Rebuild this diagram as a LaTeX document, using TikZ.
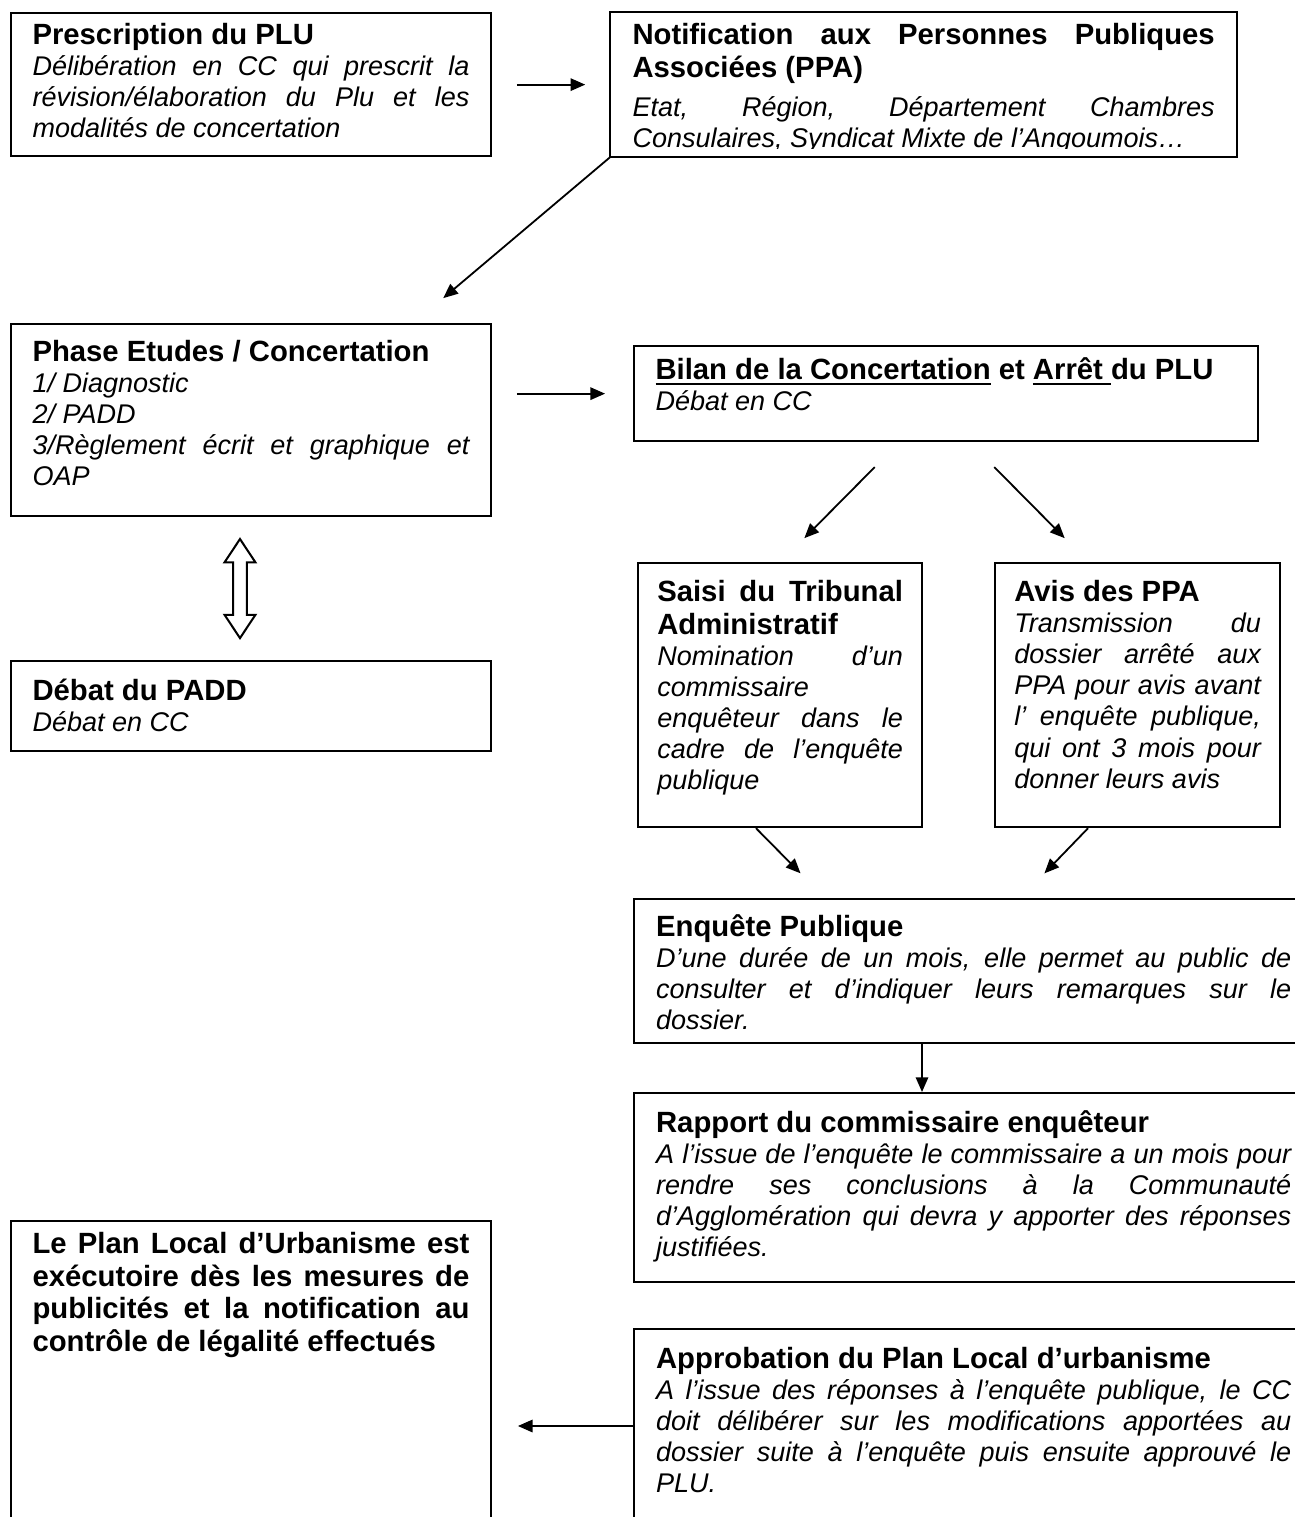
\documentclass[tikz,border=0pt]{standalone}
\usepackage{fontspec}
\setmainfont{Liberation Sans}
\usetikzlibrary{arrows.meta,calc,shapes.arrows}
\tolerance=10000 \hbadness=10000 \vbadness=10000
\hyphenpenalty=10000 \exhyphenpenalty=10000
\newcommand{\titlefont}{\bfseries\fontsize{13}{14.5}\selectfont}
\newcommand{\bodyfont}{\itshape\fontsize{12}{13.8}\selectfont}
\newcommand{\stagehead}[2]{{\titlefont\rule{0pt}{#1}#2\par}}
\newcommand{\stagebody}[1]{{\bodyfont #1\par}}
\newcommand{\uln}[1]{\setbox0\hbox{#1}\rlap{\rule[-2.4pt]{\wd0}{0.85pt}}\box0\relax}
\tikzstyle{stage}=[draw,line width=1pt,anchor=north west,inner xsep=9.5pt,inner ysep=0pt]
\tikzstyle{arr}=[-{Triangle[length=6.5pt,width=5.5pt]},line width=0.8pt]

\begin{document}
\begin{tikzpicture}[x=0.444pt,y=-0.444pt]
\useasboundingbox (0,0) rectangle (1295,1517);
\clip (0,0) rectangle (1295,1517);
\node[stage] (Presc) at (10,12) {\parbox[t][63.5pt][t]{194pt}{\stagehead{14pt}{Prescription du PLU}\stagebody{D\'elib\'eration en CC qui prescrit la\linebreak r\'evision/\'elaboration du Plu et les\linebreak modalit\'es de concertation}}};
\begin{scope}
\clip (600,0) rectangle (1245,148.5);
\node[stage,draw=none] (Notif) at (610,12) {\parbox[t][63.5pt][t]{258.5pt}{\stagehead{14pt}{Notification aux Personnes Publiques\linebreak Associ\'ees (PPA)}\vspace{3.4pt}\stagebody{Etat, R\'egion, D\'epartement Chambres\linebreak Consulaires, Syndicat Mixte de l’Angoumois…}}};
\end{scope}
\draw[line width=1pt] (Notif.south west) rectangle (Notif.north east);
\node[stage] (Phase) at (10,323) {\parbox[t][85.2pt][t]{194pt}{\stagehead{16.5pt}{Phase Etudes / Concertation}\stagebody{1/ Diagnostic\\ 2/ PADD\\ 3/R\`eglement \'ecrit et graphique et\linebreak OAP}}};
\node[stage] (Bilan) at (633,345) {\parbox[t][42.2pt][t]{258pt}{\stagehead{14.9pt}{\uln{Bilan de la Concertation} et \uln{Arr\^et }du PLU}\stagebody{D\'ebat en CC}}};
\node[stage,inner xsep=8.5pt] (Saisi) at (637,562) {\parbox[t][117.2pt][t]{109.1pt}{\stagehead{17.1pt}{Saisi du Tribunal\linebreak Administratif}\stagebody{Nomination d’un\linebreak commissaire\\ enqu\^eteur dans le\linebreak cadre de l’enqu\^ete\linebreak publique}}};
\node[stage,inner xsep=8.5pt] (Avis) at (994,562) {\parbox[t][117.2pt][t]{109.5pt}{\stagehead{17.1pt}{Avis des PPA}\stagebody{Transmission du\linebreak dossier arr\^et\'e aux\linebreak PPA pour avis avant\linebreak l’ enqu\^ete publique,\linebreak qui ont 3 mois pour\linebreak donner leurs avis}}};
\node[stage] (Debat) at (10,660) {\parbox[t][40pt][t]{194pt}{\stagehead{17.5pt}{D\'ebat du PADD}\stagebody{D\'ebat en CC}}};
\node[stage,inner xsep=9.75pt] (Enquete) at (633,898) {\parbox[t][63.9pt][t]{282pt}{\stagehead{16.6pt}{Enqu\^ete Publique}\stagebody{D’une dur\'ee de un mois, elle permet au public de\linebreak consulter et d’indiquer leurs remarques sur le\linebreak dossier.}}};
\node[stage,inner xsep=9.75pt] (Rapport) at (633,1092) {\parbox[t][83.9pt][t]{282pt}{\stagehead{17.5pt}{Rapport du commissaire enqu\^eteur}\stagebody{A l’issue de l’enqu\^ete le commissaire a un mois pour\linebreak rendre ses conclusions \`a la Communaut\'e\linebreak d’Agglom\'eration qui devra y apporter des r\'eponses\linebreak justifi\'ees.}}};
\node[stage] (Plan) at (10,1220) {\parbox[t][142.1pt][t]{194pt}{\titlefont\rule{0pt}{14.4pt}Le Plan Local d’Urbanisme est\linebreak ex\'ecutoire d\`es les mesures de\linebreak publicit\'es et la notification au\linebreak contr\^ole de l\'egalit\'e effectu\'es\par}};
\node[stage,inner xsep=9.75pt] (Approb) at (633,1328) {\parbox[t][94.1pt][t]{282pt}{\stagehead{17.5pt}{Approbation du Plan Local d’urbanisme}\stagebody{A l’issue des r\'eponses \`a l’enqu\^ete publique, le CC\linebreak doit d\'elib\'erer sur les modifications apport\'ees au\linebreak dossier suite \`a l’enqu\^ete puis ensuite approuv\'e le\linebreak PLU.}}};
\node[double arrow,draw,line width=0.9pt,rotate=90,minimum height=44pt,double arrow head extend=3.8pt,double arrow tip angle=67,inner xsep=0pt,inner ysep=2.6pt] (Link) at ($(Phase.south)!0.5!(Debat.north)+(-11,0)$) {};
\coordinate (Out) at ($(Approb.north west)+(0,98)$);
\draw[arr,shorten <=11pt,shorten >=11pt] (Presc.east) -- (Presc.east -| Notif.west);
\draw[arr,shorten >=17.1pt] (Notif.south west) -- ($(Phase.north west)+(403.8,0)$);
\draw[arr,shorten <=11.1pt,shorten >=12.4pt] (Bilan.west -| Phase.east) -- (Bilan.west);
\draw[arr,shorten <=15.5pt,shorten >=14.9pt] ($(Bilan.south west)+(266.3,0)$) -- ($(Saisi.north west)+(143.7,0)$);
\draw[arr,shorten <=15.5pt,shorten >=14.9pt] ($(Bilan.south west)+(336.7,0)$) -- ($(Avis.north west)+(94.3,0)$);
\draw[arr,shorten >=15.4pt] ($(Saisi.south west)+(119,0)$) -- ($(Enquete.north west)+(191.9,0)$);
\draw[arr,shorten >=15.2pt] ($(Avis.south west)+(94,0)$) -- ($(Enquete.north west)+(387.6,0)$);
\draw[arr] ($(Enquete.south west)+(289,0)$) -- ($(Rapport.north west)+(289,0)$);
\draw[arr,shorten >=11.5pt] (Out) -- (Out -| Plan.east);
\end{tikzpicture}
\end{document}
